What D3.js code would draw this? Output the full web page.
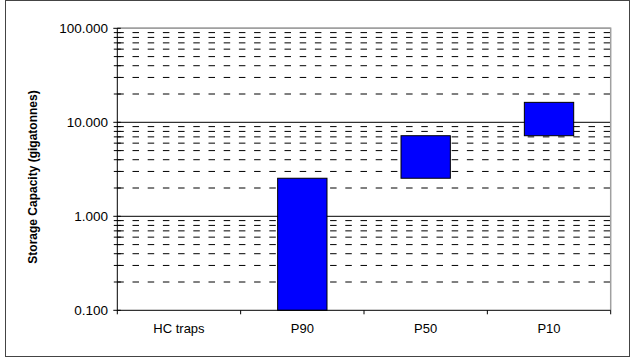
<!DOCTYPE html>
<html>
<head>
<meta charset="utf-8">
<script src="https://cdn.jsdelivr.net/npm/d3@7"></script>
<style>
  html, body { margin: 0; padding: 0; background: #fff; }
  svg { display: block; font-family: "Liberation Sans", Arial, sans-serif; }
</style>
</head>
<body>
<svg id="chart" width="636" height="358"></svg>
<script>
// Storage capacity scenarios: floating bars from low to high estimate
const categories = ["HC traps", "P90", "P50", "P10"];
const lowValues  = [0, 0, 2.54, 7.2];
const highValues = [0, 2.54, 7.2, 16.3];
const yTickValues = [0.1, 1, 10, 100];
const yTickLabels = ["0.100", "1.000", "10.000", "100.000"];
const yTitle = "Storage Capacity (gigatonnes)";

const svg = d3.select("#chart");
const plot = { left: 117.3, right: 610.7, top: 28.3, bottom: 310.3 };

// outer frame
svg.append("rect")
  .attr("x", 5.5).attr("y", 0.5)
  .attr("width", 624).attr("height", 356)
  .attr("fill", "#fff").attr("stroke", "#444").attr("stroke-width", 1);

const x = d3.scaleBand().domain(categories)
  .range([plot.left, plot.right]).paddingInner(0.6).paddingOuter(0.3);
const xOuter = d3.scaleBand().domain(categories).range([plot.left, plot.right]);
const y = d3.scaleLog().domain([0.1, 100]).range([plot.bottom, plot.top]);

// minor and major gridlines
const minorVals = [];
for (let e = -1; e < 2; e++) {
  for (let m = 2; m <= 9; m++) minorVals.push(m * Math.pow(10, e));
}
svg.append("g").selectAll("line").data(minorVals).join("line")
  .attr("x1", plot.left).attr("x2", plot.right)
  .attr("y1", d => y(d)).attr("y2", d => y(d))
  .attr("stroke", "#000").attr("stroke-width", 1)
  .attr("stroke-dasharray", "6.5,8.7");

svg.append("g").selectAll("line").data(yTickValues.slice(1)).join("line")
  .attr("x1", plot.left).attr("x2", plot.right)
  .attr("y1", d => y(d)).attr("y2", d => y(d))
  .attr("stroke", "#000").attr("stroke-width", 1);

// plot area border (top and right)
svg.append("path")
  .attr("d", `M${plot.left},${plot.top}H${plot.right}V${plot.bottom}`)
  .attr("fill", "none").attr("stroke", "#a0a0a0").attr("stroke-width", 1.5);

// bars
const floor = y.domain()[0];
svg.append("g").selectAll("rect").data(categories).join("rect")
  .filter((d, i) => highValues[i] > 0)
  .attr("x", d => x(d))
  .attr("width", x.bandwidth())
  .attr("y", d => y(highValues[categories.indexOf(d)]))
  .attr("height", d => {
    const i = categories.indexOf(d);
    return y(Math.max(lowValues[i], floor)) - y(highValues[i]);
  })
  .attr("fill", "#0000ff").attr("stroke", "#000").attr("stroke-width", 1);

// y axis
const yAxis = svg.append("g");
yAxis.append("line")
  .attr("x1", plot.left).attr("x2", plot.left)
  .attr("y1", plot.top).attr("y2", plot.bottom)
  .attr("stroke", "#000");
yAxis.selectAll("line.minor").data(minorVals).join("line").attr("class", "minor")
  .attr("x1", plot.left - 3.5).attr("x2", plot.left + 3.5)
  .attr("y1", d => y(d)).attr("y2", d => y(d)).attr("stroke", "#000");
yAxis.selectAll("line.major").data(yTickValues).join("line").attr("class", "major")
  .attr("x1", plot.left - 4).attr("x2", plot.left + 3.5)
  .attr("y1", d => y(d)).attr("y2", d => y(d)).attr("stroke", "#000");
yAxis.selectAll("text").data(yTickValues).join("text")
  .attr("x", 108).attr("y", d => y(d))
  .attr("dy", "0.36em")
  .attr("text-anchor", "end")
  .attr("font-size", 13.5)
  .text((d, i) => yTickLabels[i]);

// x axis
const xAxis = svg.append("g");
xAxis.append("line")
  .attr("x1", plot.left).attr("x2", plot.right)
  .attr("y1", plot.bottom).attr("y2", plot.bottom)
  .attr("stroke", "#000");
const boundaries = categories.map(c => xOuter(c)).concat([plot.right]);
xAxis.selectAll("line.tick").data(boundaries).join("line").attr("class", "tick")
  .attr("x1", d => d).attr("x2", d => d)
  .attr("y1", plot.bottom).attr("y2", plot.bottom + 4)
  .attr("stroke", "#000");
xAxis.selectAll("text").data(categories).join("text")
  .attr("x", d => x(d) + x.bandwidth() / 2)
  .attr("y", 332.5)
  .attr("text-anchor", "middle")
  .attr("font-size", 13)
  .text(d => d);

// y axis title
svg.append("text")
  .attr("transform", "translate(37,177) rotate(-90)")
  .attr("text-anchor", "middle")
  .attr("font-size", 12)
  .attr("font-weight", "bold")
  .text(yTitle);
</script>
</body>
</html>
